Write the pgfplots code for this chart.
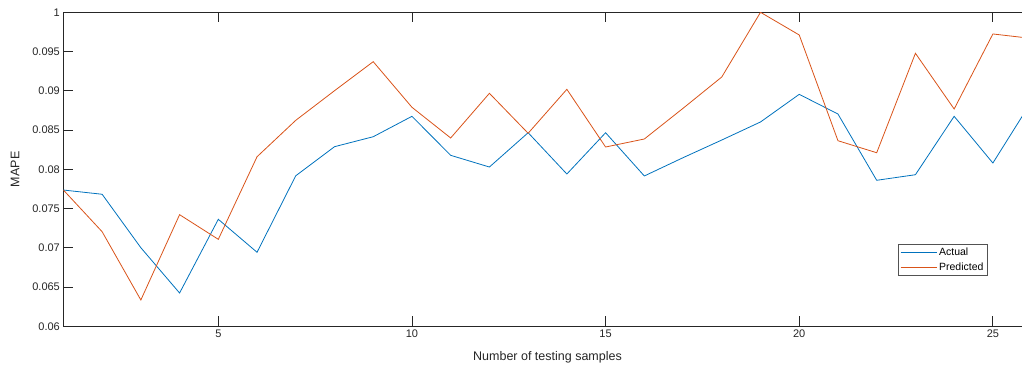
\documentclass[border=0pt]{standalone}
\usepackage{pgfplots}
\pgfplotsset{compat=1.18}
\usepackage{fontspec}
\setmainfont{Liberation Sans}
\definecolor{mblue}{rgb}{0,0.447,0.741}
\definecolor{morange}{rgb}{0.85,0.325,0.098}
\definecolor{maxis}{rgb}{0.15,0.15,0.15}
\begin{document}
\begin{tikzpicture}[x=1pt,y=1pt]
\path[use as bounding box] (0,0) rectangle (1022,369);
\clip (0,0) rectangle (1022,369);
\begin{axis}[
  at={(63.4pt,42.7pt)}, anchor=south west,
  scale only axis, width=968.2pt, height=314pt,
  xmin=1, xmax=26, ymin=0.06, ymax=0.1,
  xtick={5,10,15,20,25},
  ytick={0.06,0.065,0.07,0.075,0.08,0.085,0.09,0.095,0.1},
  yticklabels={0.06,0.065,0.07,0.075,0.08,0.085,0.09,0.095,1},
  /pgf/number format/assume math mode=true,
  tick align=inside, major tick length=10pt,
  axis line style={maxis, line width=0.8pt},
  tick style={maxis, line width=0.8pt},
  ticklabel style={font=\fontsize{11}{13}\selectfont, text=maxis},
  label style={font=\fontsize{12.5}{14}\selectfont, text=maxis},
  xlabel={Number of testing samples},
  ylabel={MAPE},
  xlabel style={at={(axis description cs:0.5,-0.100)}, anchor=center},
  ylabel style={at={(axis description cs:-0.050,0.5)}, anchor=center},
  legend style={at={(0.862,0.262)}, anchor=north west, draw=maxis!80, fill=white,
    font=\fontsize{10.5}{12}\selectfont, inner xsep=2pt, inner ysep=2pt, row sep=1pt,
    line width=0.6pt},
  legend cell align=left,
  legend image code/.code={\draw[#1, line width=0.8pt] (0pt,0pt) -- (36pt,0pt);},
]
\addplot[mblue, line width=0.8pt] coordinates {
(1,0.07736) (2,0.07682) (3,0.07001) (4,0.06424) (5,0.07363) (6,0.06943)
(7,0.07918) (8,0.08288) (9,0.08415) (10,0.08675) (11,0.08178) (12,0.08029)
(13,0.08466) (14,0.07940) (15,0.08466) (16,0.07915) (17,0.08148) (18,0.08373)
(19,0.08603) (20,0.08955) (21,0.08704) (22,0.07860) (23,0.07931) (24,0.08675)
(25,0.08080) (26,0.08866)
};
\addlegendentry{Actual}
\addplot[morange, line width=0.8pt] coordinates {
(1,0.07736) (2,0.07205) (3,0.06335) (4,0.07422) (5,0.07108) (6,0.08160)
(7,0.08624) (8,0.09001) (9,0.09371) (10,0.08790) (11,0.08399) (12,0.08968)
(13,0.08459) (14,0.09019) (15,0.08284) (16,0.08386) (17,0.08777) (18,0.09176)
(19,0.10000) (20,0.09711) (21,0.08364) (22,0.08211) (23,0.09478) (24,0.08768)
(25,0.09724) (26,0.09667)
};
\addlegendentry{Predicted}
\end{axis}
\end{tikzpicture}
\end{document}
